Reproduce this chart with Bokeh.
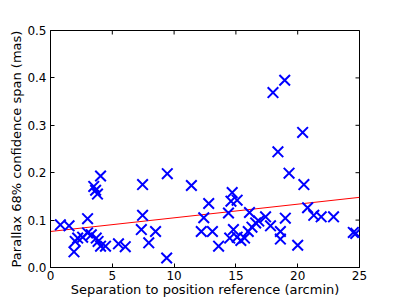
import math
from bokeh.plotting import figure
from bokeh.models import Range1d, FixedTicker, PrintfTickFormatter
from bokeh.embed import file_html
from bokeh.resources import INLINE

# Separation (arcmin) and parallax 68% confidence span (mas)
separation = [0.8, 1.5, 1.9, 2.0, 2.2, 2.6, 3.0, 3.0, 3.3,
              3.5, 3.65, 3.8, 4.05, 3.7, 3.85, 4.05, 4.45,
              5.5, 6.05, 7.45, 7.45, 7.35, 7.95, 8.5, 9.45, 9.4,
              11.4, 12.8, 12.4, 12.2, 13.1, 13.6,
              14.7, 14.6, 15.1, 14.4, 14.8, 14.5, 15.1, 15.4, 15.7,
              16.1, 16.0, 16.3, 16.6, 16.85, 17.4,
              17.8, 18.0, 18.95, 18.4, 18.6, 18.6, 19.0, 19.3, 20.0,
              20.4, 20.5, 20.8, 21.3, 21.9, 22.9, 24.5, 24.7]
span = [0.090, 0.088, 0.033, 0.055, 0.062, 0.064, 0.103, 0.073, 0.069,
        0.171, 0.163, 0.155, 0.193, 0.062, 0.055, 0.045, 0.045,
        0.050, 0.044, 0.175, 0.110, 0.080, 0.052, 0.076, 0.198, 0.020,
        0.173, 0.135, 0.105, 0.076, 0.076, 0.045,
        0.158, 0.140, 0.142, 0.115, 0.080, 0.062, 0.064, 0.057, 0.062,
        0.116, 0.076, 0.085, 0.094, 0.098, 0.107,
        0.088, 0.369, 0.395, 0.244, 0.076, 0.060, 0.104, 0.199, 0.047,
        0.285, 0.175, 0.126, 0.110, 0.107, 0.107, 0.074, 0.072]

# Linear fit line end points
fit_x = [0, 25]
fit_y = [0.076, 0.148]

x_ticks = [0, 5, 10, 15, 20, 25]
y_ticks = [0.0, 0.1, 0.2, 0.3, 0.4, 0.5]

FONT = "DejaVu Sans"
X_MIN, X_MAX = 0, 25
Y_MIN, Y_MAX = 0, 0.5

p = figure(width=397, height=299, output_backend="svg", toolbar_location=None,
           x_range=Range1d(X_MIN, X_MAX), y_range=Range1d(Y_MIN, Y_MAX),
           min_border_left=50, min_border_top=30, min_border_right=38, min_border_bottom=31)
p.grid.visible = False
p.outline_line_color = "black"
p.outline_line_width = 1
p.background_fill_color = "white"
p.border_fill_color = "white"

p.line(fit_x, fit_y, line_color="red", line_width=1)
p.scatter(separation, span, marker="x", size=15, line_width=2, color="blue")

# inward ticks on the top and right edges (half of each dash is clipped by the frame)
p.scatter(x_ticks, [Y_MAX] * len(x_ticks), marker="dash", angle=math.pi / 2,
          size=8, line_color="black", line_width=1)
p.scatter([X_MAX] * len(y_ticks), y_ticks, marker="dash",
          size=8, line_color="black", line_width=1)

xa = p.xaxis[0]
ya = p.yaxis[0]
xa.ticker = FixedTicker(ticks=x_ticks)
ya.ticker = FixedTicker(ticks=y_ticks)
ya.formatter = PrintfTickFormatter(format="%.1f")

for ax in (xa, ya):
    ax.major_tick_in = 4
    ax.major_tick_out = 0
    ax.minor_tick_in = 0
    ax.minor_tick_out = 0
    ax.axis_line_color = "black"
    ax.major_tick_line_color = "black"
    ax.major_label_text_font = FONT
    ax.major_label_text_font_size = "12px"
    ax.major_label_text_color = "black"
    ax.axis_label_text_font = FONT
    ax.axis_label_text_font_size = "13px"
    ax.axis_label_text_font_style = "normal"
    ax.axis_label_text_color = "black"

xa.axis_label = "Separation to position reference (arcmin)"
xa.major_label_standoff = 3
xa.axis_label_standoff = -1
ya.axis_label = "Parallax 68% confidence span (mas)"
ya.major_label_standoff = 4
ya.axis_label_standoff = 0

open("out.html", "w").write(file_html(p, INLINE))
